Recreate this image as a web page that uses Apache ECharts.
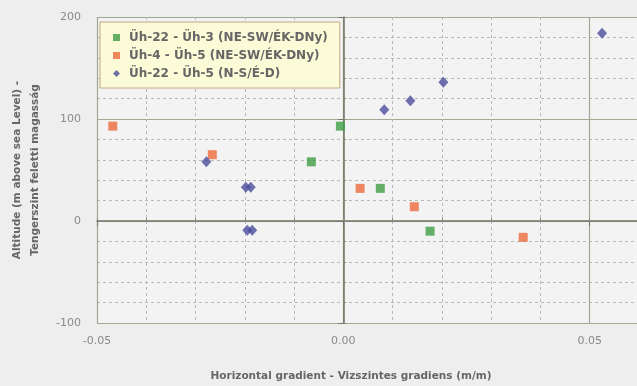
<!DOCTYPE html>
<html>
<head>
<meta charset="utf-8">
<script src="https://cdn.jsdelivr.net/npm/echarts@6/dist/echarts.min.js"></script>
<style>
  html, body { margin: 0; padding: 0; background: #eeeeee; }
  #chart { width: 637px; height: 386px; }
</style>
</head>
<body>
<div id="chart"></div>
<script>
// Gradient vs. altitude scatter, three well pairs.
var seriesNames = [
  'Üh-22 - Üh-3 (NE-SW/ÉK-DNy)',
  'Üh-4 - Üh-5 (NE-SW/ÉK-DNy)',
  'Üh-22 - Üh-5 (N-S/É-D)'
];
var uh22uh3 = [[-0.0006, 93], [-0.0065, 58], [0.0075, 32], [0.0176, -10]];
var uh4uh5 = [[-0.0468, 93], [-0.0266, 65], [0.0034, 32], [0.0144, 14], [0.0365, -16]];
var uh22uh5 = [[-0.0278, 58], [-0.0198, 33], [-0.0188, 33], [-0.0195, -9], [-0.0185, -9],
  [0.0083, 109], [0.0136, 118], [0.0203, 136], [0.0525, 184]];
var xLabelTicks = [-0.05, 0, 0.05];
var yLabelTicks = [-100, 0, 100, 200];

var colors = ['#3f9e45', '#ec6a3c', '#4a4c9c'];
var gridLine = '#a2a894';
var txt = '#8a8a8a';

function isLabelTick(list, v) {
  return list.some(function (t) { return Math.abs(t - v) < 1e-9; });
}

var chart = echarts.init(document.getElementById('chart'));
chart.setOption({
  backgroundColor: '#eeeeee',
  animation: false,
  textStyle: { fontFamily: 'DejaVu Sans, sans-serif' },
  title: {
    text: 'Horizontal gradient - Vizszintes gradiens (m/m)',
    left: 346, top: 366, textAlign: 'center',
    textStyle: { color: '#666666', fontSize: 10.5, fontWeight: 'bold' }
  },
  grid: {
    left: 97, right: -2, top: 17, bottom: 63, outerBoundsMode: 'none',
    backgroundColor: '#f3f3f3', show: true, borderWidth: 0
  },
  legend: {
    orient: 'vertical', left: 100, top: 22,
    padding: [9, 12, 8, 13], itemGap: 5, itemWidth: 7, itemHeight: 7,
    backgroundColor: '#fbfbd8', borderColor: '#c4a884', borderWidth: 1,
    textStyle: { color: '#666666', fontSize: 12, fontWeight: 'bold', lineHeight: 13, padding: [0, 0, 0, 4] },
    data: seriesNames
  },
  xAxis: [{
    type: 'value', min: -0.05, max: 0.06, interval: 0.01, position: 'bottom',
    axisLine: { lineStyle: { color: '#6f7563', width: 1.5 } },
    axisTick: { inside: true, length: 3, lineStyle: { color: '#8a8f80' } },
    splitLine: { lineStyle: { color: '#b8b8b8', type: [3, 3] } },
    axisLabel: {
      color: txt, fontSize: 11, margin: 13,
      formatter: function (v) { return isLabelTick(xLabelTicks, v) ? v.toFixed(2) : ''; }
    }
  }, {
    type: 'value', min: -0.05, max: 0.06, interval: 0.05, position: 'bottom',
    axisLine: { show: false },
    axisTick: { length: 5, lineStyle: { color: '#6f7563' } },
    splitLine: { lineStyle: { color: gridLine, width: 1.2 } },
    axisLabel: { show: false }
  }],
  yAxis: [{
    type: 'value', min: -100, max: 200, interval: 20,
    name: 'Altitude (m above sea Level) -\nTengerszint feletti magasság',
    nameLocation: 'middle', nameGap: 53,
    nameTextStyle: { color: '#666666', fontSize: 10.5, fontWeight: 'bold', lineHeight: 18 },
    axisLine: { show: true, lineStyle: { color: '#6f7563', width: 1.5 } },
    axisTick: { inside: true, length: 3, lineStyle: { color: '#8a8f80' } },
    splitLine: { lineStyle: { color: '#b8b8b8', type: [3, 3] } },
    axisLabel: {
      color: txt, fontSize: 11, margin: 16,
      formatter: function (v) { return isLabelTick(yLabelTicks, v) ? String(v) : ''; }
    }
  }, {
    type: 'value', min: -100, max: 200, interval: 100, position: 'left',
    axisLine: { show: false },
    axisTick: { length: 5, lineStyle: { color: '#6f7563' } },
    splitLine: { lineStyle: { color: gridLine, width: 1.2 } },
    axisLabel: { show: false }
  }],
  series: [
    { name: seriesNames[0], type: 'scatter', data: uh22uh3, symbol: 'rect', symbolSize: 9,
      itemStyle: { color: colors[0] } },
    { name: seriesNames[1], type: 'scatter', data: uh4uh5, symbol: 'rect', symbolSize: 9,
      itemStyle: { color: colors[1] } },
    { name: seriesNames[2], type: 'scatter', data: uh22uh5, symbol: 'diamond', symbolSize: [10, 11],
      itemStyle: { color: colors[2] } }
  ]
});
</script>
</body>
</html>
